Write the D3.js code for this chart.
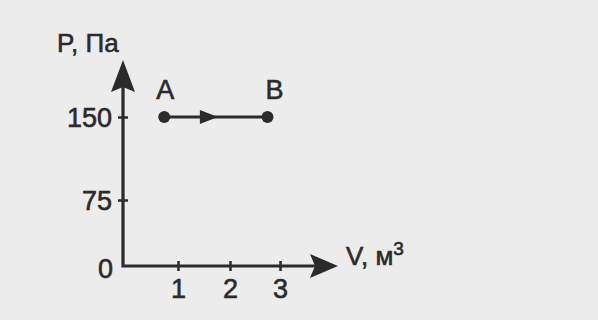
<!DOCTYPE html>
<html>
<head>
<meta charset="utf-8">
<script src="https://cdn.jsdelivr.net/npm/d3@7"></script>
<style>
  html, body { margin: 0; padding: 0; background: #ececec; }
  svg { display: block; }
  text { font-family: "Liberation Sans", Arial, sans-serif; fill: #2b2b2b; stroke: #2b2b2b; stroke-width: 0.6px; }
</style>
</head>
<body>
<svg class="pv-chart" width="598" height="320"></svg>
<script>
// process A -> B (isobaric)
const states = ["A", "B"];
const volume = [0.75, 2.75];
const pressure = [150, 150];

const vTicks = [1, 2, 3];
const pTicks = [0, 75, 150];

const ink = "#2b2b2b";
const $svg = d3.select(".pv-chart");

$svg.append("rect").attr("width", 598).attr("height", 320).attr("fill", "#ececec");

// hand-drawn figure: tick spacing is not perfectly even
const x = d3.scaleLinear().domain([0, 1, 2, 3]).range([123, 178, 230, 280]);
const y = d3.scaleLinear().domain([0, 75, 150]).range([266, 200, 117]);

const x0 = x(0), y0 = y(0);
const xEnd = 338, yEnd = 60;

// axes lines with arrowheads
$svg.append("path")
  .attr("d", `M${x0},${yEnd + 25} L${x0},${y0} L${xEnd - 22},${y0}`)
  .attr("fill", "none")
  .attr("stroke", ink)
  .attr("stroke-width", 3.2);

$svg.append("path")
  .attr("d", `M${x0},${yEnd} L${x0 + 12},${yEnd + 32} L${x0},${yEnd + 27} L${x0 - 12},${yEnd + 32} Z`)
  .attr("fill", ink);
$svg.append("path")
  .attr("d", `M${xEnd},${y0} L${xEnd - 28},${y0 - 12} L${xEnd - 23},${y0} L${xEnd - 28},${y0 + 12} Z`)
  .attr("fill", ink);

// x axis ticks + labels
const xAxis = d3.axisBottom(x).tickValues(vTicks).tickSize(0).tickPadding(13).tickFormat(d3.format("d"));
const $xAxis = $svg.append("g").attr("transform", `translate(0,${y0})`).call(xAxis);
$xAxis.select(".domain").remove();
$xAxis.selectAll(".tick line").attr("y1", -5).attr("y2", 5).attr("stroke", ink).attr("stroke-width", 2.5);
$xAxis.selectAll(".tick text").attr("font-size", 27).attr("fill", ink).attr("dy", "0.71em");

// y axis ticks + labels
const yAxis = d3.axisLeft(y).tickValues(pTicks).tickSize(0).tickPadding(11).tickFormat(d3.format("d"));
const $yAxis = $svg.append("g").attr("transform", `translate(${x0},0)`).call(yAxis);
$yAxis.select(".domain").remove();
$yAxis.selectAll(".tick line").attr("x1", -5).attr("x2", 5).attr("stroke", ink).attr("stroke-width", 2.5)
  .filter((d) => d === 0).remove();
$yAxis.selectAll(".tick text").attr("font-size", 27).attr("fill", ink).attr("dy", "0.36em");
$yAxis.selectAll(".tick").filter((d) => d === 0).select("text").attr("dy", "0.42em").attr("x", -10);

// axis titles
$svg.append("text").attr("x", 57).attr("y", 52).attr("font-size", 26).text("P, Па");
const vTitle = $svg.append("text").attr("x", 346).attr("y", 265).attr("font-size", 26);
vTitle.append("tspan").text("V, м");
vTitle.append("tspan").attr("font-size", 19).attr("dy", -10).text("3");

// process line A -> B
const pts = states.map((s, i) => ({ label: s, v: volume[i], p: pressure[i] }));

$svg.append("line")
  .attr("x1", x(pts[0].v)).attr("y1", y(pts[0].p))
  .attr("x2", x(pts[1].v)).attr("y2", y(pts[1].p))
  .attr("stroke", ink)
  .attr("stroke-width", 3);

const midX = (x(pts[0].v) + x(pts[1].v)) / 2;
const midY = y(pts[0].p);
$svg.append("path")
  .attr("d", `M${midX + 2},${midY} L${midX - 16},${midY - 7} L${midX - 16},${midY + 7} Z`)
  .attr("fill", ink);

$svg.selectAll(".pt")
  .data(pts)
  .enter()
  .append("circle")
  .attr("class", "pt")
  .attr("cx", (d) => x(d.v))
  .attr("cy", (d) => y(d.p))
  .attr("r", 6)
  .attr("fill", ink);

$svg.selectAll(".pt-label")
  .data(pts)
  .enter()
  .append("text")
  .attr("class", "pt-label")
  .attr("x", (d, i) => x(d.v) + (i === 0 ? 1 : 7))
  .attr("y", (d) => y(d.p) - 18)
  .attr("text-anchor", "middle")
  .attr("font-size", 27)
  .text((d) => d.label);
</script>
</body>
</html>
